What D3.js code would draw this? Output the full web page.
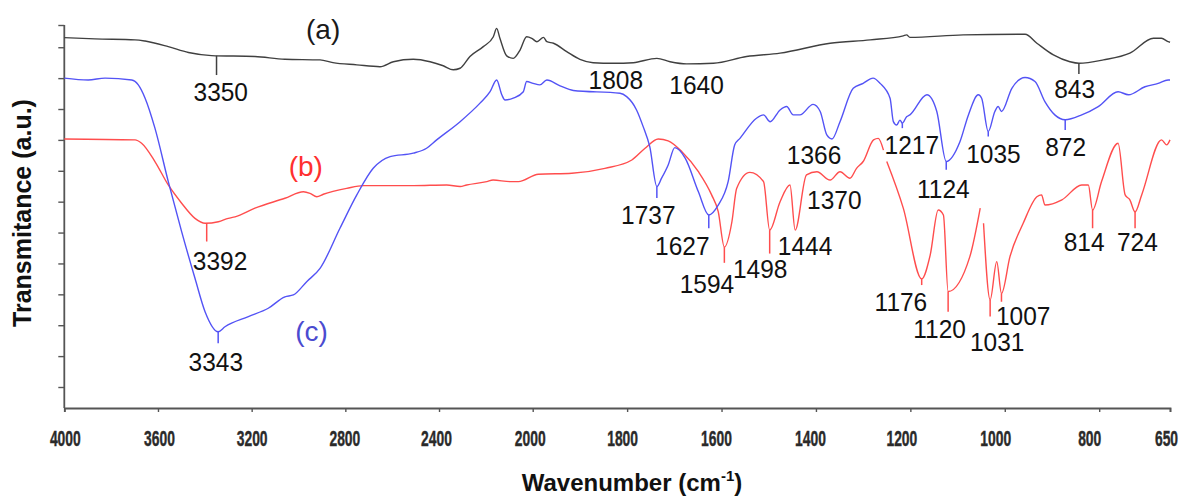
<!DOCTYPE html>
<html><head><meta charset="utf-8">
<script src="https://cdn.jsdelivr.net/npm/d3@7"></script>
<style>body{margin:0;background:#fff}</style></head>
<body>
<svg id="chart" width="1184" height="497"></svg>
<script>
// ---------- data ----------
const xTicks = [4000,3600,3200,2800,2400,2000,1800,1600,1400,1200,1000,800,650];
const yTicks = [0,1,2,3,4,5,6,7,8,9,10,11,11.72];

// (a) black spectrum  [wavenumber, transmittance a.u.]
const seriesA = [
 [4000,11.31],[3869,11.27],[3698,11.24],[3655,11.20],[3556,11.02],[3470,10.83],[3371,10.73],
 [3186,10.70],[3058,10.61],[2908,10.59],[2853,10.50],[2751,10.43],[2652,10.37],[2595,10.53],
 [2510,10.61],[2438,10.53],[2382,10.40],[2339,10.27],[2310,10.32],[2268,10.70],[2211,11.02],
 [2168,11.34],[2154,11.61],[2140,11.29],[2111,10.72],[2083,10.64],[2054,10.91],[2026,11.34],
 [2004,11.29],[1991,11.18],[1977,11.32],[1970,11.18],[1956,11.13],[1928,10.86],[1900,10.61],
 [1872,10.50],[1829,10.48],[1787,10.50],[1737,10.64],[1709,10.53],[1674,10.46],[1617,10.48],
 [1547,10.70],[1476,10.81],[1370,11.13],[1285,11.24],[1215,11.37],[1208,11.40],[1201,11.32],
 [1088,11.40],[957,11.42],[932,11.13],[897,10.75],[862,10.53],[843,10.48],[791,10.59],
 [735,10.81],[685,11.29],[668,11.29],[654,11.18],[650,11.16]
];

// (b) red spectrum
const seriesB = [
 [4000,8.03],[3698,8.00],[3670,7.89],[3613,7.30],[3556,6.54],[3499,5.95],[3442,5.46],
 [3399,5.30],[3342,5.35],[3300,5.46],[3271,5.51],[3186,5.79],[3058,6.11],[2979,6.32],
 [2951,6.27],[2922,6.16],[2894,6.24],[2794,6.43],[2723,6.52],[2510,6.52],[2367,6.54],
 [2310,6.49],[2282,6.54],[2196,6.65],[2169,6.70],[2097,6.65],[2061,6.65],[1988,6.89],
 [1917,6.92],[1847,7.08],[1790,7.35],[1762,7.73],[1734,8.03],[1713,7.97],[1684,7.62],
 [1649,6.97],[1621,6.22],[1607,5.68],[1594,4.53],[1578,5.35],[1568,6.43],[1540,6.95],
 [1511,6.65],[1498,5.08],[1476,6.00],[1455,6.54],[1444,5.08],[1420,6.87],[1398,6.97],
 [1370,6.70],[1349,6.97],[1328,6.76],[1314,7.08],[1300,7.30],[1278,8.00],[1268,8.05],
 [1257,7.67],[1254,null],[1250,7.30],[1215,5.79],[1176,3.50],[1158,4.27],[1141,5.73],
 [1130,5.57],[1120,3.09],[1074,4.22],[1052,5.79],[1051,null],[1049,6.06],[1047,null],
 [1045,5.30],[1031,2.82],[1017,4.06],[1007,3.03],[989,4.22],[961,5.30],[932,6.16],
 [922,6.22],[915,5.89],[879,6.06],[837,6.54],[823,6.54],[814,5.73],[795,6.65],[760,7.89],
 [745,6.22],[735,6.06],[724,5.67],[710,6.22],[668,8.00],[657,7.84],[650,8.00]
];

// (c) blue spectrum
const seriesC = [
 [4000,10.00],[3898,9.94],[3826,10.00],[3712,9.94],[3684,9.78],[3655,9.35],[3613,8.38],
 [3556,6.65],[3499,5.03],[3442,3.52],[3399,2.44],[3343,1.79],[3314,1.95],[3214,2.28],
 [3129,2.55],[3058,2.92],[3022,2.98],[2965,3.41],[2908,3.84],[2823,5.14],[2751,6.22],
 [2681,7.08],[2609,7.46],[2510,7.57],[2453,7.73],[2410,8.00],[2310,8.59],[2225,9.19],
 [2182,9.56],[2154,9.94],[2132,9.46],[2118,9.29],[2083,9.35],[2040,9.56],[2026,9.89],
 [1999,9.83],[1985,9.78],[1970,9.94],[1942,9.75],[1914,9.60],[1815,9.51],[1801,9.40],
 [1780,8.97],[1766,8.43],[1752,7.78],[1737,6.49],[1727,6.76],[1713,7.19],[1699,7.75],
 [1677,7.41],[1649,6.32],[1627,5.57],[1607,5.89],[1586,6.65],[1572,7.84],[1561,8.05],
 [1526,8.70],[1511,8.81],[1497,8.59],[1476,8.97],[1462,9.08],[1448,8.81],[1434,8.81],
 [1406,9.15],[1391,8.92],[1377,8.16],[1366,8.03],[1349,8.59],[1321,9.67],[1300,9.83],
 [1279,10.00],[1264,9.83],[1243,9.35],[1236,8.59],[1229,8.48],[1222,8.64],[1217,8.54],
 [1208,8.75],[1201,8.81],[1165,9.46],[1144,8.92],[1124,7.30],[1095,7.94],[1077,8.81],
 [1056,9.46],[1049,9.35],[1035,8.27],[1021,8.92],[1014,9.08],[1007,8.92],[985,9.67],
 [957,10.02],[936,9.89],[915,9.24],[894,8.81],[872,8.65],[837,8.81],[802,9.08],
 [760,9.56],[738,9.46],[703,9.72],[675,9.83],[654,9.94],[650,9.94]
];

// peak annotations: label, peak wavenumber, tick end value, label wavenumber, label value
const peaksA = [
 ["3350",3350,10.10,3332,9.57],["1808",null,null,1824,9.96],
 ["1640",null,null,1653,9.81],["843",843,10.13,852,9.67]
];
const peaksB = [
 ["3392",3392,4.71,3335,4.11],["1594",1594,4.02,1631,3.34],["1498",1498,4.32,1518,3.84],
 ["1444",null,null,1423,4.57],["1370",null,null,1361,6.06],["1176",1176,3.30,1220,2.76],
 ["1120",1120,2.44,1138,1.90],["1031",1031,2.28,1016,1.47],["1007",1007,2.76,961,2.33],
 ["814",814,5.14,832,4.71],["724",724,5.14,719,4.71]
];
const peaksC = [
 ["3343",3343,1.42,3353,0.82],["1737",1737,6.12,1755,5.57],["1627",1627,5.14,1683,4.57],
 ["1366",null,null,1404,7.54],["1217",1217,8.38,1197,7.84],["1124",1124,7.03,1130,6.43],
 ["1035",1035,8.11,1024,7.57],["872",872,8.32,871,7.78]
];
// curve labels: text, wavenumber, value
const curveLabels = [["(a)",2895,11.56],["(b)",2969,7.13],["(c)",2944,1.79]];
const colors = {a:"#404040", b:"#ff4d4d", c:"#5353f5"};
const labelColors = ["#1a1a1a","#ff3030","#4b4bd0"];
const tickLabelNudge = [0.5,1,0,-1,-3,-3,-5,-5.5,-6,-9,-9.5,-10,-4];

// ---------- drawing ----------
const svg = d3.select("#chart");
const x = d3.scaleLinear().domain([4000,2000,650]).range([64.3,532.7,1170]);
const y = d3.scaleLinear().domain([-0.68,11.72]).range([408,25]);

const line = d3.line().defined(d => d[1] !== null).curve(d3.curveMonotoneX)
  .x(d => x(d[0])).y(d => y(d[1]));

function interp(series, w){
  const s = series.filter(d => d[1] !== null);
  for(let i=0;i<s.length-1;i++){
    const a=s[i], b=s[i+1];
    if(w<=a[0] && w>=b[0]){ const t=(a[0]-w)/(a[0]-b[0]); return a[1]+t*(b[1]-a[1]); }
  }
  return s[s.length-1][1];
}

// axes
const xAxis = d3.axisBottom(x).tickValues(xTicks).tickSize(4).tickFormat(d3.format("d"));
const gx = svg.append("g").attr("transform","translate(0,408)").call(xAxis);
gx.select(".domain").attr("stroke","#555").attr("stroke-width",1.8);
gx.selectAll(".tick line").attr("stroke","#555").attr("stroke-width",1.4);
gx.selectAll(".tick text").attr("y",null).attr("dy",null)
  .attr("transform",(d,i)=>`translate(${tickLabelNudge[i]},38) scale(0.66,1.05)`)
  .style("font-family","'Liberation Sans',Arial,sans-serif")
  .style("font-weight","bold")
  .style("font-size","21px").attr("fill","#2a2a2a")
  .attr("stroke","#2a2a2a").attr("stroke-width",0.4);

const yAxis = d3.axisLeft(y).tickValues(yTicks).tickSize(6).tickFormat("");
const gy = svg.append("g").attr("transform","translate(64.3,0)").call(yAxis);
gy.select(".domain").attr("stroke","#555").attr("stroke-width",1.8).attr("d","M0,25V408");
gy.selectAll(".tick line").attr("stroke","#555").attr("stroke-width",1.4);

// curves
[[seriesA,colors.a],[seriesB,colors.b],[seriesC,colors.c]].forEach(([s,c])=>{
  svg.append("path").datum(s).attr("d",line).attr("fill","none")
     .attr("stroke",c).attr("stroke-width",1.4).attr("stroke-linejoin","round");
});

// peak ticks & labels
const FS = 24.5, SY = 1.08;
function drawPeaks(peaks, series, color){
  peaks.forEach(([t,w,te,lw,lv])=>{
    if(w!==null){
      svg.append("line").attr("x1",x(w)).attr("x2",x(w))
        .attr("y1",y(interp(series,w))).attr("y2",y(te))
        .attr("stroke",color).attr("stroke-width",1.5);
    }
    svg.append("text").text(t)
      .attr("transform",`translate(${x(lw)},${y(lv)+0.36*FS*SY}) scale(1,${SY})`)
      .attr("text-anchor","middle")
      .style("font-family","'Liberation Sans',Arial,sans-serif")
      .style("font-size",FS+"px").attr("fill","#111");
  });
}
drawPeaks(peaksA, seriesA, colors.a);
drawPeaks(peaksB, seriesB, colors.b);
drawPeaks(peaksC, seriesC, colors.c);

curveLabels.forEach(([t,w,v],i)=>{
  svg.append("text").text(t)
    .attr("transform",`translate(${x(w)},${y(v)+9.5})`)
    .attr("text-anchor","middle")
    .style("font-family","'Liberation Sans',Arial,sans-serif")
    .style("font-size","28px").attr("fill",labelColors[i]);
});

// axis titles
const xt = svg.append("text").attr("x",632).attr("y",491).attr("text-anchor","middle")
  .style("font-family","'Liberation Sans',Arial,sans-serif").style("font-weight","bold")
  .style("font-size","24px").attr("fill","#111");
xt.append("tspan").text("Wavenumber (cm");
xt.append("tspan").text("-1").attr("dy",-10).style("font-size","15px");
xt.append("tspan").text(")").attr("dy",10);

svg.append("text").attr("transform","translate(31,213) rotate(-90)").attr("text-anchor","middle")
  .style("font-family","'Liberation Sans',Arial,sans-serif").style("font-weight","bold")
  .style("font-size","25px").attr("fill","#111").text("Transmitance (a.u.)");
</script>
</body></html>
